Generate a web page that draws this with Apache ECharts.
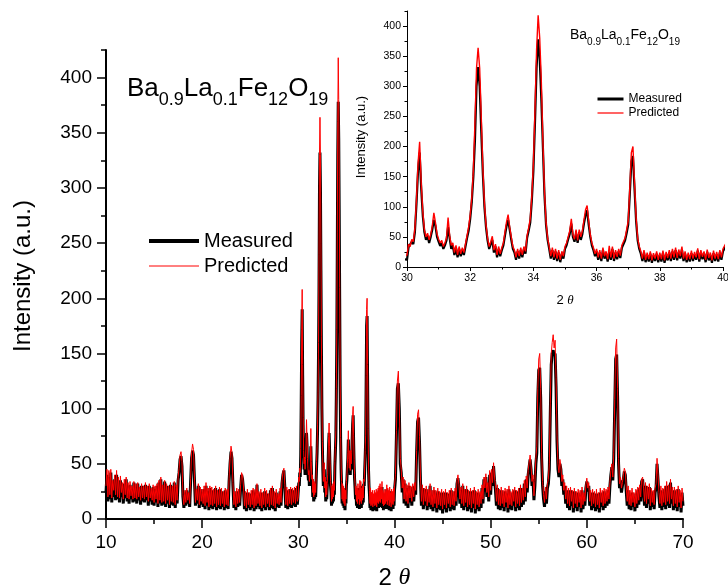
<!DOCTYPE html>
<html><head><meta charset="utf-8">
<script src="https://cdn.jsdelivr.net/npm/echarts@6/dist/echarts.min.js"></script>
<style>html,body{margin:0;padding:0;background:#fff}#c{width:728px;height:588px}</style>
</head><body><div id="c"></div><script>
// ---- data: one row per degree of 2θ, values evenly spaced inside the row ----
const lowStart = 10;   // rows 10°..29° (0.1° steps)
const measuredLow = [
[24,40,16,38,18,42,15,30,20,36],[17,40,18,33,15,35,20,28,14,32],[19,36,16,30,14,31,18,27,15,33],
[16,29,14,32,17,26,13,30,16,28],[15,31,17,27,12,30,16,26,13,29],[12,27,15,30,11,33,14,36,12,29],
[13,34,11,30,14,27,10,31,13,28],[12,33,10,29,14,35,42,54,57,48],[20,10,24,12,26,14,22,11,34,55],
[62,58,35,12,25,14,30,10,27,13],[24,11,27,9,30,12,25,8,28,10],[26,9,24,11,28,8,23,10,27,9],
[25,11,22,8,26,10,24,9,34,50],[61,55,30,10,22,8,25,11,24,12],[28,40,36,26,9,22,7,24,10,21],
[8,23,10,26,7,24,9,31,11,22],[9,24,7,21,10,25,8,23,11,20],[8,26,10,28,9,22,7,24,11,20],
[10,25,12,32,40,44,28,10,26,9],[24,11,27,10,25,12,26,11,28,13]];
const predictedLow = [
[30,45,20,44,22,45,19,35,26,40],[22,44,20,38,19,39,24,33,18,36],[22,38,19,33,18,34,21,30,18,34],
[19,32,18,33,20,29,17,32,19,30],[18,33,20,30,16,32,19,28,17,31],[15,30,18,32,14,35,17,38,15,31],
[16,35,14,32,17,30,13,33,16,30],[15,34,13,31,17,38,46,58,61,52],[22,13,26,15,28,17,24,14,37,60],
[68,63,38,15,27,17,32,13,29,16],[27,14,30,12,33,15,28,11,30,13],[29,12,27,14,30,11,26,13,29,12],
[28,14,25,11,28,13,27,12,37,55],[66,60,33,13,25,11,28,14,27,15],[31,42,39,29,12,25,10,27,13,24],
[11,26,13,28,10,27,12,32,14,25],[12,27,10,24,13,28,11,26,14,23],[11,28,13,30,12,25,10,27,14,23],
[13,28,15,35,43,46,31,13,29,12],[27,14,29,13,28,15,29,14,30,16]];

const midStart = 30;   // rows 30°..39° (0.05° steps)
const measuredMid = [
[12,33,30,42,38,58,105,160,190,130,85,58,45,52,40,50,62,78,68,50],
[42,35,40,30,36,44,66,48,30,36,20,32,16,30,18,28,20,34,48,60],
[80,108,150,210,300,332,300,225,155,100,66,44,30,38,45,24,34,16,30,18],
[28,36,52,68,78,62,45,30,24,12,26,14,28,16,30,22,48,60,74,110],
[160,240,330,378,345,280,200,120,70,45,30,14,28,12,26,10,24,8,22,14],
[30,36,46,55,72,50,42,55,40,58,45,55,72,86,94,70,50,36,28,18],
[26,12,24,10,28,14,22,9,25,12,30,10,24,13,26,15,32,30,44,56],
[70,120,175,184,130,76,44,30,22,10,24,8,20,9,22,7,19,10,22,8],
[20,9,23,7,21,11,24,10,26,12,28,11,25,14,29,10,22,8,20,9],
[23,10,21,12,27,9,24,13,22,8,25,11,20,7,23,10,21,9,24,12]];
const predictedMid = [
[20,38,34,46,42,64,112,172,208,140,92,62,50,56,45,54,68,90,74,55],
[46,40,44,34,40,48,82,52,36,40,24,36,20,34,22,32,24,38,52,66],
[86,115,160,240,330,364,330,250,165,106,70,48,34,42,51,28,38,20,34,22],
[32,40,58,75,87,66,50,34,28,16,30,18,32,20,34,26,52,65,80,118],
[172,260,360,418,380,310,210,126,74,48,34,18,32,16,30,14,28,12,26,18],
[34,40,50,60,80,54,46,62,44,62,50,60,78,95,102,76,54,40,32,22],
[30,16,28,14,32,18,26,13,35,16,34,14,28,17,30,19,36,34,48,62],
[76,130,190,200,140,82,48,34,26,14,28,12,24,13,26,11,23,14,26,12],
[24,13,27,11,25,15,28,14,30,16,32,15,29,18,34,14,26,12,24,13],
[27,14,25,16,31,13,28,17,26,12,29,15,24,11,27,14,25,13,28,16]];

const highStart = 40;  // rows 40°..69° (0.1° steps) + 70°
const measuredHigh = [
[26,36,75,118,123,100,50,42,24,36],[14,32,12,28,10,30,15,26,12,29],[16,30,22,60,88,92,70,35,12,28],
[9,25,12,27,8,24,11,30,9,22],[7,26,10,23,6,25,9,21,8,24],[5,22,9,24,6,20,10,23,7,26],
[9,22,8,25,12,32,37,28,14,26],[10,30,8,24,11,27,7,22,9,25],[6,23,10,26,5,21,9,24,7,22],
[10,28,14,36,25,38,20,30,16,40],[22,42,30,48,35,26,12,28,9,24],[8,26,10,22,7,25,11,23,6,27],
[9,21,8,24,12,26,7,22,10,25],[8,28,11,24,13,32,16,36,24,40],[40,54,45,30,36,17,30,50,60,110],
[135,137,110,55,30,18,11,25,14,28],[32,45,95,140,150,153,148,150,120,70],[45,38,50,45,30,36,22,30,14,26],
[10,24,8,26,12,22,6,25,10,21],[7,24,11,22,6,26,9,20,12,28],[34,25,30,12,22,8,24,10,21,7],
[23,9,20,6,24,11,22,8,25,10],[23,12,26,14,30,40,47,35,55,100],[145,149,110,50,28,35,24,30,36,43],
[40,25,12,26,9,22,8,24,11,20],[7,23,10,26,13,28,16,34,36,24],[12,30,10,26,14,29,8,25,11,22],
[9,24,28,50,36,20,10,26,8,24],[11,27,9,30,12,28,10,33,14,25],[8,26,10,23,7,27,11,22,6,24],[12]];
const predictedHigh = [
[30,40,80,125,134,105,55,45,28,38],[18,35,16,31,14,33,19,30,16,32],[20,33,26,62,95,99,75,38,16,31],
[13,28,16,30,12,27,15,32,13,26],[11,29,14,26,10,28,13,25,12,27],[9,25,13,27,10,24,14,26,11,28],
[13,25,12,28,16,35,40,31,18,29],[14,32,12,27,15,30,11,26,13,28],[10,26,14,29,9,25,13,27,11,25],
[14,31,18,38,28,41,24,33,20,44],[26,45,33,51,38,30,16,31,13,27],[12,29,14,26,11,28,15,27,10,30],
[13,25,12,27,16,29,11,26,14,28],[12,31,15,28,17,35,20,39,28,44],[44,58,48,34,40,21,34,55,66,118],
[145,150,118,60,34,22,15,29,18,32],[36,50,105,150,160,167,155,162,128,76],[50,42,54,48,34,40,26,33,18,30],
[14,28,12,29,16,26,10,28,14,25],[11,27,15,26,10,29,13,24,16,31],[37,28,33,16,26,12,27,14,25,11],
[27,13,24,10,28,15,26,12,28,14],[27,16,29,18,33,44,50,38,60,108],[155,163,118,55,32,38,28,33,40,46],
[43,29,16,30,13,26,12,28,15,24],[11,27,14,29,17,31,20,36,38,28],[16,33,14,30,18,32,12,28,15,26],
[13,28,32,55,40,24,14,30,12,28],[15,30,13,34,16,31,14,36,18,29],[12,29,14,27,11,30,15,26,10,28],[16]];

const legendNames = ['Measured', 'Predicted'];
const mainXTicks = [10, 70, 10];   // min, max, interval
const mainYTicks = [0, 425, 50];
const insetXTicks = [30, 40, 2];
const insetYTicks = [0, 425, 50];

// ---- build points ----
function rowsToPoints(start, rows) {
  const out = [];
  rows.forEach((row, i) => {
    const step = 1 / row.length;
    row.forEach((v, j) => out.push([+(start + i + j * step).toFixed(3), v]));
  });
  return out;
}
const measured = rowsToPoints(lowStart, measuredLow)
  .concat(rowsToPoints(midStart, measuredMid), rowsToPoints(highStart, measuredHigh));
const predicted = rowsToPoints(lowStart, predictedLow)
  .concat(rowsToPoints(midStart, predictedMid), rowsToPoints(highStart, predictedHigh));

const FONT = '"Liberation Sans", Arial, sans-serif';
const SERIF = '"Liberation Serif", "DejaVu Serif", serif';
function range(a, b, s) { const r = []; for (let v = a; v <= b; v += s) r.push(v); return r; }

const chart = echarts.init(document.getElementById('c'), null, {renderer: 'canvas'});

function xAxisDef(grid, t, o) {
  return {
    gridIndex: grid, type: 'value', min: t[0], max: t[1], interval: t[2],
    axisLine: {show: true, onZero: false, lineStyle: {color: '#000', width: o.lw}},
    axisTick: {show: true, inside: false, length: o.major, lineStyle: {color: '#000', width: o.tw}},
    minorTick: {show: true, splitNumber: 2, length: o.minor, lineStyle: {color: '#000', width: o.tw}},
    splitLine: {show: false}, minorSplitLine: {show: false},
    axisLabel: {fontSize: o.fs, fontFamily: FONT, color: '#000', margin: o.margin},
    name: '2 {t|θ}', nameLocation: 'middle', nameGap: o.nameGap,
    nameTextStyle: {fontSize: o.nfs, fontFamily: FONT, color: '#000',
      rich: {t: {fontSize: o.nfs, fontFamily: SERIF, fontStyle: 'italic', color: '#000'}}}
  };
}
function yAxesDef(grid, t, o) {
  return [{
    gridIndex: grid, type: 'value', position: 'left', min: t[0], max: t[1], interval: t[2] / 2,
    axisLine: {show: true, onZero: false, lineStyle: {color: '#000', width: o.lw}},
    axisTick: {show: true, inside: false, length: o.minor, lineStyle: {color: '#000', width: o.tw}},
    splitLine: {show: false},
    axisLabel: {fontSize: o.fs, fontFamily: FONT, color: '#000', margin: o.margin,
      formatter: v => (v % t[2] === 0 ? String(v) : '')}
  }, {
    gridIndex: grid, type: 'value', position: 'left', min: t[0], max: t[1], interval: t[2],
    axisLine: {show: false},
    axisTick: {show: true, inside: false, length: o.major, lineStyle: {color: '#000', width: o.tw},
      customValues: range(t[0], 400, t[2])},
    splitLine: {show: false}, axisLabel: {show: false}
  }];
}

const mainStyle = {lw: 2, tw: 1.5, major: 9, minor: 5, fs: 19, margin: 14, nameGap: 47, nfs: 24};
const insetStyle = {lw: 1, tw: 1, major: 4, minor: 2.5, fs: 10.5, margin: 6, nameGap: 27, nfs: 13};

const option = {
  animation: false,
  backgroundColor: '#fff',
  textStyle: {fontFamily: FONT},
  grid: [
    {left: 106, right: 45, top: 50, bottom: 69, containLabel: false, outerBoundsMode: 'none'},
    {left: 407, right: 5, top: 11, bottom: 321, containLabel: false, outerBoundsMode: 'none'}
  ],
  xAxis: [xAxisDef(0, mainXTicks, mainStyle), xAxisDef(1, insetXTicks, insetStyle)],
  yAxis: yAxesDef(0, mainYTicks, mainStyle).concat(yAxesDef(1, insetYTicks, insetStyle)),
  legend: [{
    orient: 'vertical', left: 142, top: 226, itemWidth: 50, itemHeight: 20, itemGap: 5,
    selectedMode: false, textStyle: {fontSize: 20, fontFamily: FONT, color: '#000'},
    data: [{name: legendNames[0], lineStyle: {width: 4, color: '#000'}, itemStyle: {opacity: 0}},
           {name: legendNames[1], lineStyle: {width: 1, color: '#ff0000'}, itemStyle: {opacity: 0}}]
  }, {
    orient: 'vertical', left: 591, top: 88, itemWidth: 26, itemHeight: 12, itemGap: 2,
    selectedMode: false, textStyle: {fontSize: 12, fontFamily: FONT, color: '#000'},
    data: [{name: legendNames[0], lineStyle: {width: 3, color: '#000'}, itemStyle: {opacity: 0}},
           {name: legendNames[1], lineStyle: {width: 1.5, color: '#ff3030'}, itemStyle: {opacity: 0}}]
  }],
  graphic: [
    {type: 'text', x: 127, y: 76, style: {
      text: '{n|Ba}{s|0.9}{n|La}{s|0.1}{n|Fe}{s|12}{n|O}{s|19}', verticalAlign: 'top', fill: '#000',
      rich: {n: {fontSize: 26, fontFamily: FONT, fill: '#000', verticalAlign: 'top', lineHeight: 26},
             s: {fontSize: 18, fontFamily: FONT, fill: '#000', verticalAlign: 'top', lineHeight: 18, padding: [15, 0, 0, 0]}}}},
    {type: 'text', x: 570, y: 28, style: {
      text: '{n|Ba}{s|0.9}{n|La}{s|0.1}{n|Fe}{s|12}{n|O}{s|19}', verticalAlign: 'top', fill: '#000',
      rich: {n: {fontSize: 14, fontFamily: FONT, fill: '#000', verticalAlign: 'top', lineHeight: 14},
             s: {fontSize: 10, fontFamily: FONT, fill: '#000', verticalAlign: 'top', lineHeight: 10, padding: [9, 0, 0, 0]}}}},
    {type: 'text', x: 23, y: 276, rotation: Math.PI / 2, style: {
      text: 'Intensity (a.u.)', fontSize: 24, fontFamily: FONT, fill: '#000', align: 'center', verticalAlign: 'middle'}},
    {type: 'text', x: 361, y: 137, rotation: Math.PI / 2, style: {
      text: 'Intensity (a.u.)', fontSize: 13, fontFamily: FONT, fill: '#000', align: 'center', verticalAlign: 'middle'}}
  ],
  series: [
    {type: 'line', name: legendNames[0], xAxisIndex: 0, yAxisIndex: 0, data: measured, symbol: 'none',
     lineStyle: {color: '#000', width: 3}, itemStyle: {color: '#000'}, z: 2},
    {type: 'line', name: legendNames[1], xAxisIndex: 0, yAxisIndex: 0, data: predicted, symbol: 'none',
     lineStyle: {color: '#ff0000', width: 1}, itemStyle: {color: '#ff0000'}, z: 3},
    {type: 'line', name: legendNames[0], xAxisIndex: 1, yAxisIndex: 2, data: measured, symbol: 'none',
     lineStyle: {color: '#000', width: 2.2}, itemStyle: {color: '#000'}, z: 2},
    {type: 'line', name: legendNames[1], xAxisIndex: 1, yAxisIndex: 2, data: predicted, symbol: 'none',
     lineStyle: {color: '#ff0000', width: 1.4}, itemStyle: {color: '#ff0000'}, z: 3}
  ]
};
chart.setOption(option);
</script></body></html>
